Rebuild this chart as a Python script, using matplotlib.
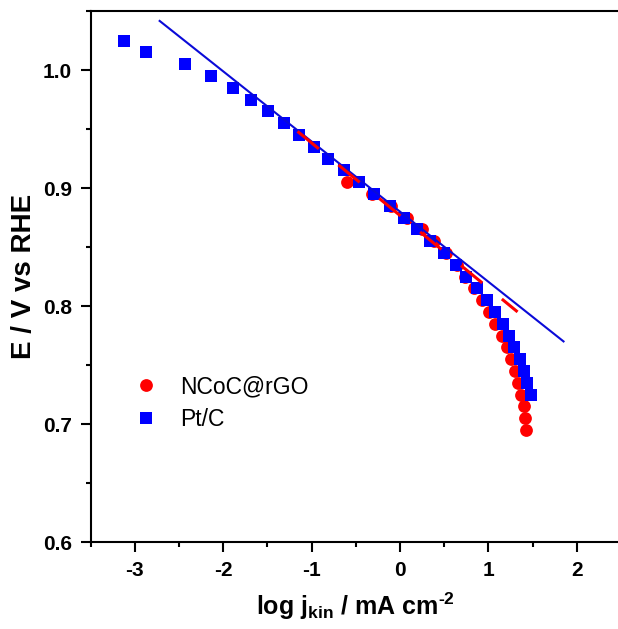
import matplotlib
matplotlib.use('Agg')
import matplotlib.pyplot as plt
from matplotlib.ticker import MultipleLocator, FormatStrFormatter

# Tafel data
ncoc_logj = [-0.60, -0.32, -0.10, 0.08, 0.25, 0.39, 0.52, 0.64, 0.74, 0.84, 0.93,
             1.01, 1.08, 1.15, 1.21, 1.26, 1.30, 1.33, 1.37, 1.40, 1.41, 1.42]
ncoc_E = [0.905, 0.895, 0.885, 0.875, 0.865, 0.855, 0.845, 0.835, 0.825, 0.815, 0.805,
          0.795, 0.785, 0.775, 0.765, 0.755, 0.745, 0.735, 0.725, 0.715, 0.705, 0.695]

ptc_logj = [-3.12, -2.875, -2.43, -2.14, -1.895, -1.685, -1.496, -1.315, -1.145, -0.976,
            -0.81, -0.637, -0.464, -0.295, -0.114, 0.044, 0.19, 0.34, 0.495, 0.635,
            0.75, 0.87, 0.98, 1.08, 1.17, 1.23, 1.295, 1.355, 1.40, 1.44, 1.48]
ptc_E = [1.025, 1.015, 1.005, 0.995, 0.985, 0.975, 0.965, 0.955, 0.945, 0.935,
         0.925, 0.915, 0.905, 0.895, 0.885, 0.875, 0.865, 0.855, 0.845, 0.835,
         0.825, 0.815, 0.805, 0.795, 0.785, 0.775, 0.765, 0.755, 0.745, 0.735, 0.725]

# linear Tafel fits (end points)
ncoc_fit_x = [-1.16, 1.33]
ncoc_fit_y = [0.948, 0.795]
ptc_fit_x = [-2.72, 1.85]
ptc_fit_y = [1.0416, 0.770]

plt.rcParams['font.family'] = 'Liberation Sans'
plt.rcParams['mathtext.fontset'] = 'custom'
plt.rcParams['mathtext.rm'] = 'Liberation Sans:bold'
plt.rcParams['mathtext.default'] = 'rm'
plt.rcParams['axes.unicode_minus'] = False

fig = plt.figure(figsize=(6.18, 6.29), dpi=100)
ax = fig.add_axes([0.1468, 0.1383, 0.858, 0.8442])

ax.plot(ncoc_logj, ncoc_E, 'o', color='#ff0000', markersize=9.2, markeredgewidth=0,
        label='NCoC@rGO', zorder=2)
ax.plot(ptc_logj, ptc_E, 's', color='#0000ff', markersize=8.4, markeredgewidth=0,
        label='Pt/C', zorder=3)
ax.plot(ptc_fit_x, ptc_fit_y, '-', color='#0a0ad8', lw=1.5, zorder=4)
ax.plot(ncoc_fit_x, ncoc_fit_y, color='#ff0000', lw=2.2, linestyle=(0, (9, 8.3)), zorder=5)

ax.set_xlim(-3.5, 2.5)
ax.set_ylim(0.6, 1.05)
ax.xaxis.set_major_locator(MultipleLocator(1))
ax.xaxis.set_minor_locator(MultipleLocator(0.5))
ax.yaxis.set_major_locator(MultipleLocator(0.1))
ax.yaxis.set_minor_locator(MultipleLocator(0.05))
ax.yaxis.set_major_formatter(FormatStrFormatter('%.1f'))

ax.spines['right'].set_visible(False)
for s in ['left', 'bottom', 'top']:
    ax.spines[s].set_linewidth(1.5)
ax.tick_params(which='major', direction='out', length=7.5, width=1.5, pad=6,
               labelsize=15, top=False, right=False)
ax.tick_params(which='minor', direction='out', length=3.5, width=1.5,
               top=False, right=False)
for lab in ax.get_xticklabels() + ax.get_yticklabels():
    lab.set_fontweight('bold')

ax.set_xlabel('log j$_{kin}$ / mA cm$^{\u2010 2}$', fontsize=18, fontweight='bold', labelpad=8)
ax.set_ylabel('E / V vs RHE', fontsize=20, fontweight='bold', labelpad=4)

ax.legend(loc='center left', bbox_to_anchor=(0.0826, 0.2617), frameon=False,
          fontsize=16.5, borderpad=0, handlelength=1.0, handletextpad=1.0,
          labelspacing=0.42, borderaxespad=0)

fig.savefig('out.png', dpi=100)
